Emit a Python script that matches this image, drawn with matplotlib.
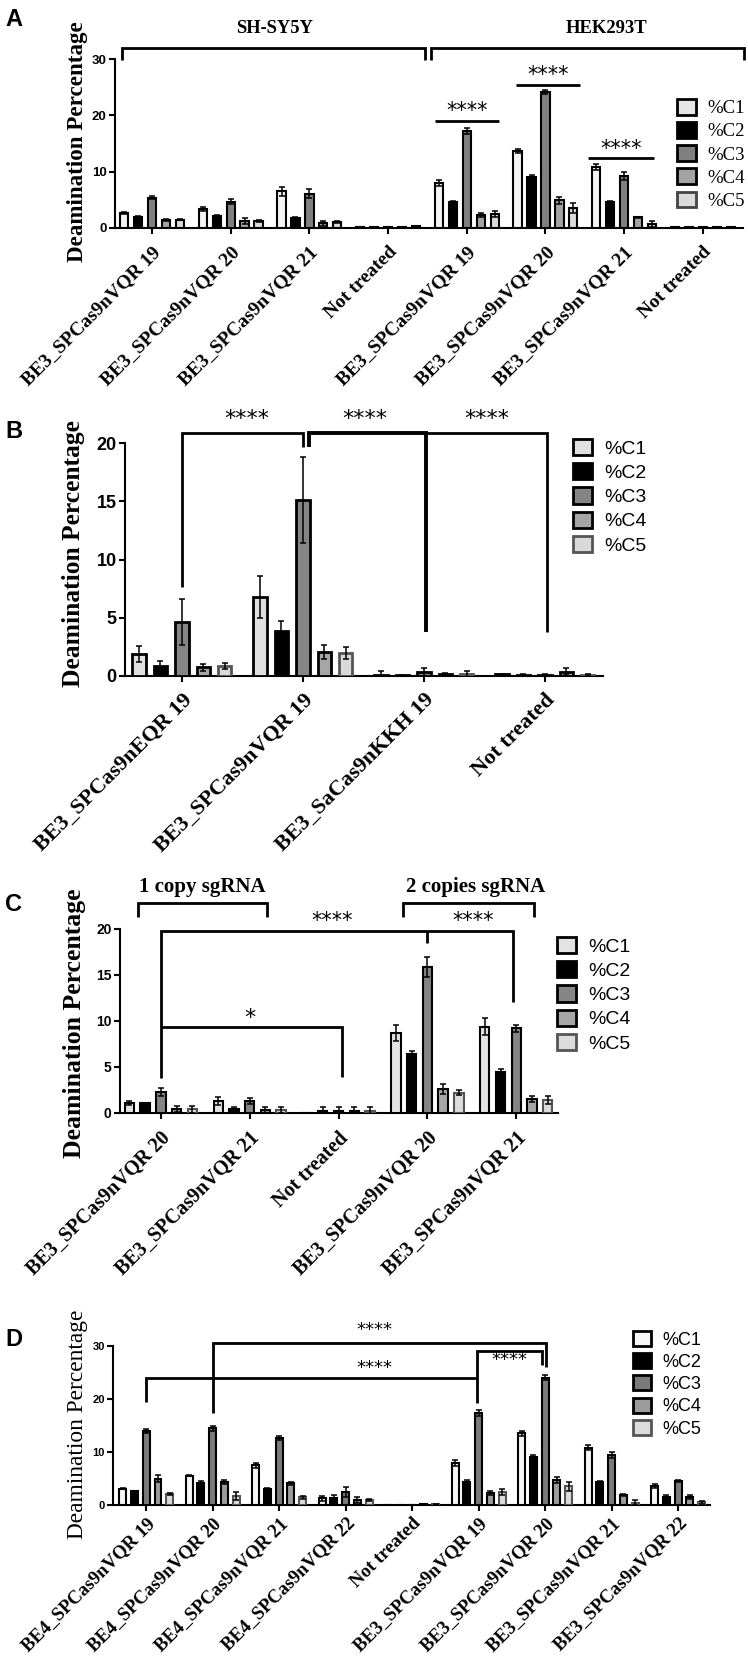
import numpy as np
import matplotlib
matplotlib.use("Agg")
import matplotlib.pyplot as plt
from matplotlib.patches import Patch
from matplotlib.transforms import ScaledTranslation

SERIF = "Liberation Serif"
SANS = "Liberation Sans"
series = ["%C1", "%C2", "%C3", "%C4", "%C5"]

# ---------------- Panel A ----------------
A_groups = ["BE3_SPCas9nVQR 19", "BE3_SPCas9nVQR 20", "BE3_SPCas9nVQR 21", "Not treated",
            "BE3_SPCas9nVQR 19", "BE3_SPCas9nVQR 20", "BE3_SPCas9nVQR 21", "Not treated"]
A_mean = [[2.7, 3.4, 6.5, 0.1, 8.0, 13.7, 10.8, 0.1],
          [2.0, 2.2, 1.8, 0.1, 4.6, 9.0, 4.6, 0.1],
          [5.4, 4.7, 6.1, 0.1, 17.2, 24.1, 9.2, 0.1],
          [1.4, 1.2, 0.8, 0.2, 2.3, 4.9, 1.9, 0.2],
          [1.5, 1.2, 1.0, 0.3, 2.5, 3.5, 0.7, 0.2]]
A_err = [[0.2, 0.3, 0.8, 0.05, 0.5, 0.3, 0.5, 0.05],
         [0.15, 0.1, 0.1, 0.05, 0.2, 0.4, 0.2, 0.05],
         [0.2, 0.5, 0.8, 0.05, 0.6, 0.4, 0.7, 0.05],
         [0.2, 0.5, 0.5, 0.05, 0.4, 0.6, 0.1, 0.05],
         [0.15, 0.2, 0.2, 0.05, 0.5, 0.9, 0.6, 0.05]]

# ---------------- Panel B ----------------
B_groups = ["BE3_SPCas9nEQR 19", "BE3_SPCas9nVQR 19", "BE3_SaCas9nKKH 19", "Not treated"]
B_mean = [[1.9, 6.8, 0.1, 0.15],
          [0.85, 3.85, 0.05, 0.1],
          [4.65, 15.1, 0.35, 0.1],
          [0.75, 2.1, 0.2, 0.35],
          [0.85, 2.0, 0.2, 0.1]]
B_err = [[0.7, 1.8, 0.3, 0.05],
         [0.4, 0.9, 0.05, 0.05],
         [1.95, 3.7, 0.35, 0.05],
         [0.3, 0.6, 0.1, 0.3],
         [0.25, 0.5, 0.25, 0.05]]

# ---------------- Panel C ----------------
C_groups = ["BE3_SPCas9nVQR 20", "BE3_SPCas9nVQR 21", "Not treated",
            "BE3_SPCas9nVQR 20", "BE3_SPCas9nVQR 21"]
C_mean = [[1.1, 1.3, 0.0, 8.7, 9.4],
          [1.05, 0.45, 0.25, 6.4, 4.5],
          [2.3, 1.3, 0.25, 15.9, 9.2],
          [0.45, 0.3, 0.25, 2.6, 1.55],
          [0.4, 0.3, 0.25, 2.2, 1.4]]
C_err = [[0.2, 0.4, 0.0, 0.85, 0.9],
         [0.05, 0.2, 0.35, 0.3, 0.25],
         [0.4, 0.35, 0.35, 1.1, 0.35],
         [0.3, 0.4, 0.35, 0.5, 0.35],
         [0.35, 0.3, 0.35, 0.25, 0.4]]

# ---------------- Panel D ----------------
D_groups = ["BE4_SPCas9nVQR 19", "BE4_SPCas9nVQR 20", "BE4_SPCas9nVQR 21", "BE4_SPCas9nVQR 22",
            "Not treated", "BE3_SPCas9nVQR 19", "BE3_SPCas9nVQR 20", "BE3_SPCas9nVQR 21",
            "BE3_SPCas9nVQR 22"]
D_mean = [[3.1, 5.5, 7.5, 1.25, 0.05, 7.9, 13.5, 10.8, 3.6],
          [2.6, 4.1, 3.0, 1.4, 0.05, 4.3, 9.1, 4.3, 1.6],
          [14.0, 14.5, 12.6, 2.5, 0.05, 17.3, 24.0, 9.4, 4.6],
          [5.0, 4.3, 4.1, 0.95, 0.1, 2.3, 4.7, 1.9, 1.45],
          [2.0, 1.7, 1.45, 0.95, 0.1, 2.4, 3.5, 0.45, 0.5]]
D_err = [[0.1, 0.1, 0.5, 0.5, 0.02, 0.6, 0.4, 0.5, 0.3],
         [0.1, 0.5, 0.3, 0.4, 0.02, 0.4, 0.3, 0.3, 0.2],
         [0.4, 0.5, 0.4, 0.9, 0.02, 0.6, 0.5, 0.6, 0.2],
         [0.7, 0.4, 0.3, 0.6, 0.02, 0.4, 0.6, 0.15, 0.4],
         [0.2, 0.8, 0.3, 0.2, 0.02, 0.6, 0.9, 0.5, 0.3]]

W, H = 748, 1663
fig = plt.figure(figsize=(W / 100, H / 100), dpi=100)


def rect(l, r, top, bot):
    return [l / W, 1 - bot / H, (r - l) / W, (bot - top) / H]


def panel(r, groups, mean, err, ylim, yticks, colors, edges, xlim,
          ytick_fs, xlab_fs, xpad, ylab_fs, ylab_weight, ylab_xy, lw=1.5, bw=0.105, off=0.177):
    ax = fig.add_axes(r)
    x = np.arange(len(groups))
    for k in range(5):
        ax.bar(x + (k - 2) * off, mean[k], width=bw, color=colors[k], edgecolor=edges[k],
               linewidth=lw, yerr=err[k], zorder=3,
               error_kw=dict(ecolor="black", elinewidth=1.1, capsize=2.2, capthick=1.1, zorder=4))
    ax.set_xlim(*xlim)
    ax.set_ylim(*ylim)
    ax.set_yticks(yticks)
    ax.set_yticklabels([str(t) for t in yticks], fontfamily=SANS, fontweight="bold", fontsize=ytick_fs)
    ax.set_xticks(x)
    ax.set_xticklabels(groups, rotation=45, ha="right", rotation_mode="anchor",
                       fontfamily=SERIF, fontweight="bold", fontsize=xlab_fs)
    shift = ScaledTranslation(4 / 72, 0, fig.dpi_scale_trans)
    for lab in ax.get_xticklabels():
        lab.set_transform(lab.get_transform() + shift)
    for s in ["top", "right"]:
        ax.spines[s].set_visible(False)
    for s in ["left", "bottom"]:
        ax.spines[s].set_linewidth(1.5)
    ax.tick_params(axis="both", direction="out", length=4, width=1.5, pad=2)
    ax.tick_params(axis="x", pad=xpad)
    ax.set_ylabel("Deamination Percentage", fontfamily=SERIF, fontweight=ylab_weight,
                  fontsize=ylab_fs, va="center")
    ax.yaxis.set_label_coords(ylab_xy[0] / W, 1 - ylab_xy[1] / H, transform=fig.transFigure)
    return ax


def line(ax, xs, ys, lw=2.0):
    ax.plot(xs, ys, color="black", lw=lw, clip_on=False, zorder=5, solid_capstyle="butt",
            solid_joinstyle="miter")


def stars(ax, x, y, txt="****", fs=15):
    ax.text(x, y, txt, ha="center", va="center", fontsize=fs, fontfamily="DejaVu Sans",
            clip_on=False)


def legend(ax, colors, edges, x, y, fs, family, spacing):
    handles = [Patch(facecolor=colors[k], edgecolor=edges[k], linewidth=2.0, label=series[k])
               for k in range(5)]
    ax.legend(handles=handles, loc="upper left", bbox_to_anchor=(x / W, 1 - y / H),
              bbox_transform=fig.transFigure, frameon=False, prop={"family": family, "size": fs},
              handlelength=1.0, handleheight=0.9, handletextpad=0.6, labelspacing=spacing,
              borderpad=0, borderaxespad=0)


def letter(t, x, y):
    fig.text(x / W, 1 - y / H, t, fontsize=17, fontweight="bold", fontfamily=SANS,
             ha="left", va="top")


# ---------------- Draw A ----------------
colA = ["#f4f4f4", "#000000", "#808080", "#a3a3a3", "#dadada"]
edgA = ["black"] * 5
axA = panel(rect(115, 743, 59, 228), A_groups, A_mean, A_err, (0, 30), [0, 10, 20, 30],
            colA, edgA, (-0.47, 7.51), 9.5, 14, 7, 16.6, "bold", (77, 142))
line(axA, [-0.38, -0.38, 3.47, 3.47], [29.8, 32.0, 32.0, 29.8])
line(axA, [3.55, 3.55, 7.52, 7.52], [29.8, 32.0, 32.0, 29.8])
axA.text(1.56, 35.5, "SH-SY5Y", ha="center", va="center", fontfamily=SERIF, fontweight="bold",
         fontsize=13.3, clip_on=False)
axA.text(5.77, 35.5, "HEK293T", ha="center", va="center", fontfamily=SERIF, fontweight="bold",
         fontsize=13.4, clip_on=False)
line(axA, [3.6, 4.41], [19.0, 19.0])
stars(axA, 4.0, 20.7)
line(axA, [4.63, 5.44], [25.4, 25.4])
stars(axA, 5.04, 27.1)
line(axA, [5.54, 6.38], [12.4, 12.4])
stars(axA, 5.96, 14.1)
legend(axA, ["#e6e6e6", "#000000", "#808080", "#a3a3a3", "#dadada"], ["black"] * 4 + ["#444444"],
       677, 99, 13.5, SERIF, 0.26)
letter("A", 5, 8)

# ---------------- Draw B ----------------
colB = ["#e0e0e0", "#000000", "#858585", "#a6a6a6", "#d9d9d9"]
edgB = ["black", "black", "black", "black", "#555555"]
axB = panel(rect(125, 603, 443, 676), B_groups, B_mean, B_err, (0, 20), [0, 5, 10, 15, 20],
            colB, edgB, (-0.47, 3.48), 13, 16, 6, 18.4, "bold", (74, 554), lw=2.0, bw=0.11)
line(axB, [0, 0, 1.0, 1.0], [7.6, 20.85, 20.85, 19.65], lw=2.0)
line(axB, [1.05, 1.05, 2.02, 2.02], [19.65, 20.85, 20.85, 3.8], lw=2.8)
line(axB, [2.02, 3.02, 3.02], [20.85, 20.85, 3.8], lw=2.0)
stars(axB, 0.54, 22.1, fs=16)
stars(axB, 1.51, 22.1, fs=16)
stars(axB, 2.52, 22.1, fs=16)
legend(axB, colB, edgB, 573, 439, 14, SANS, 0.28)
letter("B", 5, 420)

# ---------------- Draw C ----------------
colC = ["#e3e3e3", "#000000", "#858585", "#a6a6a6", "#dcdcdc"]
edgC = ["black", "black", "black", "black", "#555555"]
axC = panel(rect(120, 558, 929, 1113), C_groups, C_mean, C_err, (0, 20), [0, 5, 10, 15, 20],
            colC, edgC, (-0.46, 4.47), 10, 14.5, 7, 18.5, "bold", (75, 1023))
line(axC, [-0.26, -0.26, 1.2, 1.2], [21.3, 22.8, 22.8, 21.3])
line(axC, [2.73, 2.73, 4.2, 4.2], [21.3, 22.8, 22.8, 21.3])
axC.text(0.47, 24.6, "1 copy sgRNA", ha="center", va="center", fontfamily=SERIF,
         fontweight="bold", fontsize=15, clip_on=False)
axC.text(3.54, 24.6, "2 copies sgRNA", ha="center", va="center", fontfamily=SERIF,
         fontweight="bold", fontsize=15, clip_on=False)
line(axC, [0, 0, 3.96, 3.96], [3.8, 19.8, 19.8, 12.1])
line(axC, [3.0, 3.0], [19.8, 18.5])
line(axC, [0, 2.04, 2.04], [9.35, 9.35, 3.9])
stars(axC, 1.0, 10.3, "*", fs=16)
stars(axC, 1.93, 20.9)
stars(axC, 3.51, 20.9)
legend(axC, colC, edgC, 557, 937, 14, SANS, 0.28)
letter("C", 5, 893)

# ---------------- Draw D ----------------
colD = ["#f6f6f6", "#000000", "#7a7a7a", "#9c9c9c", "#dcdcdc"]
edgD = ["black"] * 4 + ["#555555"]
axD = panel(rect(113, 710, 1346, 1505), D_groups, D_mean, D_err, (0, 30), [0, 10, 20, 30],
            colD, edgD, (-0.5, 8.48), 8, 13.5, 3, 16.8, "normal", (78, 1424))
line(axD, [1, 1, 6.02, 6.02], [17.4, 30.6, 30.6, 26.0])
line(axD, [0, 0, 4.98, 4.98], [19.4, 24.0, 24.0, 19.2])
line(axD, [4.98, 4.98, 5.95, 5.95], [24.2, 29.1, 29.1, 26.4])
stars(axD, 3.44, 33.0, fs=13)
stars(axD, 3.44, 25.9, fs=13)
stars(axD, 5.47, 27.3, fs=13)
legend(axD, colD, edgD, 633, 1331, 13, SANS, 0.25)
letter("D", 5, 1328)

fig.savefig("out.png", dpi=100)
